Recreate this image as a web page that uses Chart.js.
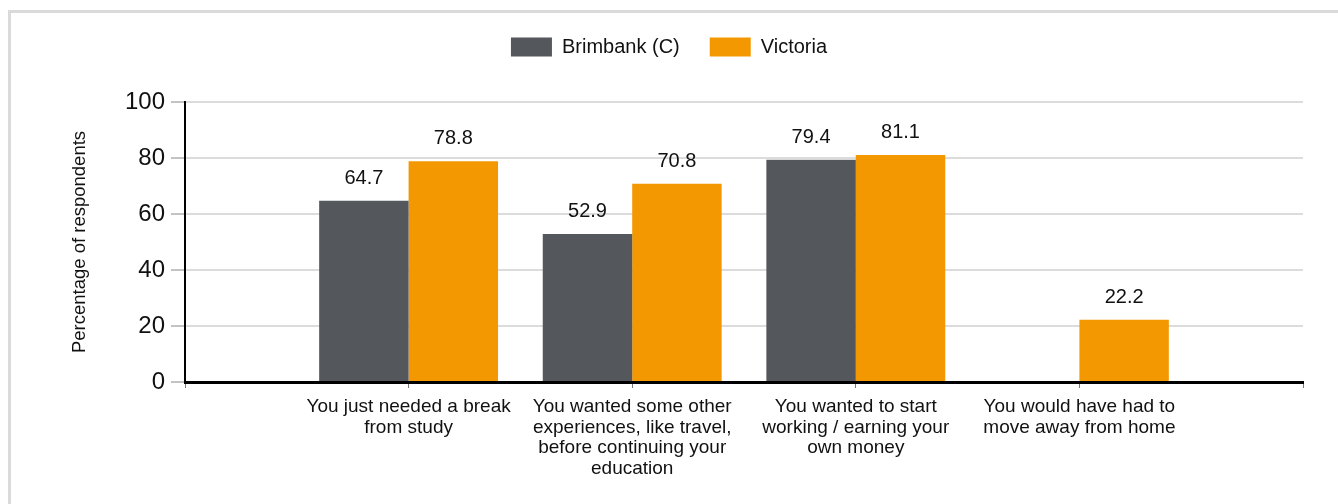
<!DOCTYPE html>
<html>
<head>
<meta charset="utf-8">
<script src="https://cdn.jsdelivr.net/npm/chart.js@4.4.1/dist/chart.umd.min.js"></script>
<style>
  html, body { margin: 0; padding: 0; background: #fff; overflow: hidden; }
  #chart { display: block; }
</style>
</head>
<body>
<canvas id="chart" width="1338" height="504"></canvas>
<script>
// data
const categories = [
  ['You just needed a break', 'from study'],
  ['You wanted some other', 'experiences, like travel,', 'before continuing your', 'education'],
  ['You wanted to start', 'working / earning your', 'own money'],
  ['You would have had to', 'move away from home']
];
const brimbank = [64.7, 52.9, 79.4, null];
const victoria = [78.8, 70.8, 81.1, 22.2];
const yTicks = [0, 20, 40, 60, 80, 100];

const FONT = '"Liberation Sans", Arial, sans-serif';

// the reference leaves an empty slot at each end of the axis
const labels = [''].concat(categories, ['']);
const pad = arr => [null].concat(arr, [null]);

// light frame along the top and left edge
const frame = {
  id: 'frame',
  beforeDraw(chart) {
    const ctx = chart.ctx;
    ctx.save();
    ctx.fillStyle = '#fff';
    ctx.fillRect(0, 0, chart.width, chart.height);
    ctx.strokeStyle = '#dadada';
    ctx.lineWidth = 3;
    ctx.beginPath();
    ctx.moveTo(9.5, chart.height);
    ctx.lineTo(9.5, 11.5);
    ctx.lineTo(chart.width, 11.5);
    ctx.stroke();
    ctx.restore();
  }
};

// value labels above the bars
const barValues = {
  id: 'barValues',
  afterDatasetsDraw(chart) {
    const ctx = chart.ctx;
    ctx.save();
    ctx.font = '20px ' + FONT;
    ctx.fillStyle = '#111';
    ctx.textAlign = 'center';
    ctx.textBaseline = 'alphabetic';
    chart.data.datasets.forEach((ds, i) => {
      chart.getDatasetMeta(i).data.forEach((bar, j) => {
        const v = ds.data[j];
        if (v == null) return;
        ctx.fillText(v.toFixed(1), bar.x, bar.y - 17);
      });
    });
    ctx.restore();
  }
};

// legend takes a fixed band at the top
const legendHeight = {
  id: 'legendHeight',
  beforeLayout(chart) {
    const lg = chart.legend;
    if (lg && !lg._fixed) {
      const fit = lg.fit;
      lg.fit = function () { fit.call(this); this.height = 95; };
      lg._fixed = true;
    }
  }
};

new Chart(document.getElementById('chart'), {
  type: 'bar',
  data: {
    labels: labels,
    datasets: [
      { label: 'Brimbank (C)', data: pad(brimbank), backgroundColor: '#54575b' },
      { label: 'Victoria', data: pad(victoria), backgroundColor: '#f39800' }
    ]
  },
  options: {
    responsive: false,
    animation: false,
    categoryPercentage: 0.8,
    barPercentage: 1.0,
    layout: { padding: { left: 35, right: 35, top: 7, bottom: 0 } },
    plugins: {
      tooltip: { enabled: false },
      legend: {
        position: 'top',
        labels: {
          boxWidth: 41,
          boxHeight: 19,
          padding: 30,
          color: '#111',
          font: { family: FONT, size: 20 }
        }
      }
    },
    scales: {
      x: {
        offset: false,
        grid: { offset: false, drawOnChartArea: false, color: '#777', tickLength: 6 },
        border: { display: true, color: '#000', width: 3 },
        ticks: {
          autoSkip: false, maxRotation: 0, padding: 8, color: '#111',
          font: { family: FONT, size: 19, lineHeight: 1.1 }
        },
        afterFit: s => { s.height = 122; }
      },
      y: {
        min: 0,
        max: 100,
        afterBuildTicks: s => { s.ticks = yTicks.map(v => ({ value: v })); },
        grid: { color: '#dcdcdc', lineWidth: 2, tickColor: '#888', tickWidth: 1, tickLength: 14 },
        border: { display: true, color: '#000', width: 2 },
        ticks: { padding: 6, color: '#111', font: { family: FONT, size: 24 } },
        title: {
          display: true,
          text: 'Percentage of respondents',
          color: '#111',
          padding: { top: 34, bottom: 0 },
          font: { family: FONT, size: 18.5 }
        },
        afterFit: s => { s.width = 150; }
      }
    }
  },
  plugins: [frame, barValues, legendHeight]
});
</script>
</body>
</html>
